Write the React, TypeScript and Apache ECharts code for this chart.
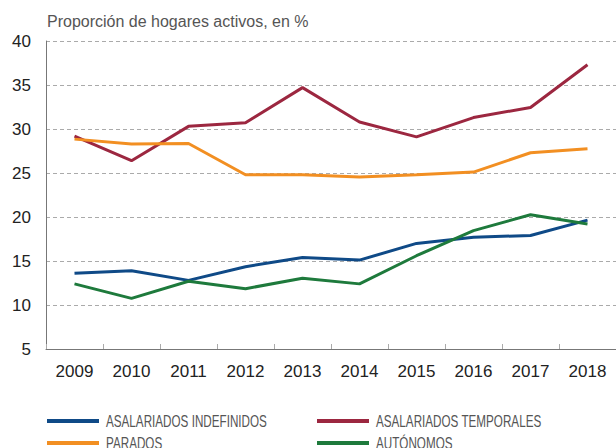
import React, { useEffect, useRef } from "react";
import * as echarts from "echarts";

const years = ["2009", "2010", "2011", "2012", "2013", "2014", "2015", "2016", "2017", "2018"];
const indefinidos = [13.6, 13.9, 12.8, 14.35, 15.4, 15.1, 17.0, 17.7, 17.9, 19.65];
const temporales = [29.2, 26.4, 30.3, 30.7, 34.7, 30.8, 29.1, 31.3, 32.45, 37.3];
const parados = [28.85, 28.3, 28.35, 24.8, 24.8, 24.55, 24.8, 25.1, 27.3, 27.75];
const autonomos = [12.4, 10.75, 12.7, 11.85, 13.05, 12.4, 15.6, 18.45, 20.25, 19.2];

const names = ["ASALARIADOS INDEFINIDOS", "ASALARIADOS TEMPORALES", "PARADOS", "AUTÓNOMOS"];
const colors = ["#0f4a87", "#9c2740", "#f28f22", "#1e7a3c"];
const values = [indefinidos, temporales, parados, autonomos];

export default function App() {
  const ref = useRef<HTMLDivElement>(null);
  useEffect(() => {
    if (!ref.current) return;
    const chart = echarts.init(ref.current, undefined, { renderer: "svg" });
    const legendPos = [
      { x: 47, y: 421 },
      { x: 317, y: 421 },
      { x: 47, y: 443 },
      { x: 317, y: 443 },
    ];
    const legendGraphics = names.map((n, i) => ({
      type: "group",
      children: [
        {
          type: "rect",
          shape: { x: legendPos[i].x, y: legendPos[i].y - 2, width: 52, height: 4 },
          style: { fill: colors[i] },
        },
        {
          type: "text",
          x: legendPos[i].x + 59,
          y: legendPos[i].y,
          scaleX: 0.73,
          style: {
            text: n,
            font: "16px 'Liberation Sans', Arial, sans-serif",
            fill: "#555",
            textVerticalAlign: "middle",
            verticalAlign: "middle",
          },
        },
      ],
    }));
    chart.setOption({
      animation: false,
      textStyle: { fontFamily: "Liberation Sans, Arial, sans-serif" },
      title: {
        text: "Proporción de hogares activos, en %",
        left: 47,
        top: 13,
        padding: 0,
        textStyle: { fontSize: 16, fontWeight: "normal", color: "#555", fontFamily: "Liberation Sans, Arial, sans-serif" },
      },
      graphic: legendGraphics,
      grid: { left: 46, top: 41, right: -10, bottom: 99 },
      xAxis: {
        type: "category",
        data: years,
        boundaryGap: true,
        axisLine: { lineStyle: { color: "#777", width: 1 } },
        axisTick: { show: true, inside: true, length: 5, lineStyle: { color: "#aaa", width: 1 } },
        axisLabel: { fontSize: 17, color: "#222", margin: 14 },
        splitLine: { show: false },
      },
      yAxis: {
        type: "value",
        min: 5,
        max: 40,
        interval: 5,
        axisLine: { show: true, lineStyle: { color: "#777", width: 1 } },
        axisTick: { show: false },
        axisLabel: { fontSize: 17, color: "#222", margin: 15 },
        splitLine: { show: true, lineStyle: { color: "#aaa", type: [4, 3], width: 1 } },
      },
      series: names.map((n, i) => ({
        name: n,
        type: "line",
        data: values[i],
        symbol: "none",
        lineStyle: { color: colors[i], width: 3 },
        itemStyle: { color: colors[i] },
      })),
    });
    return () => chart.dispose();
  }, []);
  return <div ref={ref} style={{ width: 616, height: 448, position: "absolute", left: 0, top: 0 }} />;
}
